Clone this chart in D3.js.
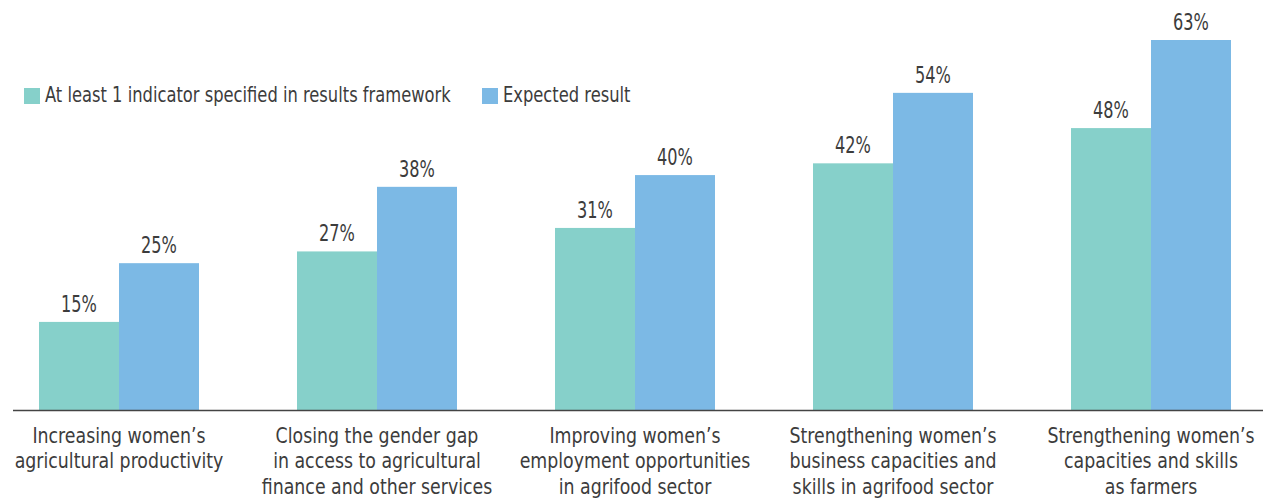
<!DOCTYPE html>
<html>
<head>
<meta charset="utf-8">
<script src="https://cdn.jsdelivr.net/npm/d3@7"></script>
<style>
  html, body { margin: 0; padding: 0; background: #fff; }
  svg { display: block; }
  text { font-family: "DejaVu Sans Condensed", "DejaVu Sans", sans-serif; font-stretch: condensed; fill: #3c3c3c; }
</style>
</head>
<body>
<svg id="chart" width="1263" height="499"></svg>
<script>
// Focus areas (each label split into its display lines)
const categories = [
  ["Increasing women\u2019s", "agricultural productivity"],
  ["Closing the gender gap", "in access to agricultural", "finance and other services"],
  ["Improving women\u2019s", "employment opportunities", "in agrifood sector"],
  ["Strengthening women\u2019s", "business capacities and", "skills in agrifood sector"],
  ["Strengthening women\u2019s", "capacities and skills", "as farmers"]
];
const seriesNames = ["At least 1 indicator specified in results framework", "Expected result"];
const indicatorValues = [15, 27, 31, 42, 48];
const expectedValues = [25, 38, 40, 54, 63];
const colors = ["#86d0ca", "#7cb9e5"];

const svg = d3.select("#chart");
const W = 1263, baseY = 410;

const x0 = d3.scaleBand()
  .domain(d3.range(categories.length))
  .range([-10, 1280]);

const x1 = d3.scaleBand()
  .domain([0, 1])
  .range([49, x0.bandwidth() - 49]);

const y = d3.scaleLinear().domain([0, 63]).range([baseY, 40]);

// Narrow, light type: draw text horizontally compressed about its anchor
function narrowText(sel, x, yPos, sx, size) {
  return sel.append("text")
    .attr("transform", `translate(${x},${yPos}) scale(${sx},1)`)
    .style("font-size", size + "px");
}

const rows = categories.map((c, i) => ({ i, vals: [indicatorValues[i], expectedValues[i]] }));

const groups = svg.append("g").selectAll("g")
  .data(rows).join("g")
  .attr("transform", d => `translate(${x0(d.i)},0)`);

groups.selectAll("rect")
  .data(d => d.vals.map((v, s) => ({ v, s })))
  .join("rect")
  .attr("x", d => x1(d.s))
  .attr("width", x1.bandwidth())
  .attr("y", d => y(d.v))
  .attr("height", d => baseY - y(d.v))
  .attr("fill", d => colors[d.s]);

groups.each(function (r) {
  const g = d3.select(this);
  r.vals.forEach((v, s) => {
    narrowText(g, x1(s) + x1.bandwidth() / 2, y(v) - 10, 0.78, 23)
      .attr("text-anchor", "middle")
      .text(v + "%");
  });
});

// Baseline axis
const xAxis = d3.axisBottom(x0).tickSize(0).tickFormat("");
const axisG = svg.append("g").attr("transform", `translate(0,${baseY})`).call(xAxis);
axisG.select(".domain").attr("d", `M13,0.5H${W}`).attr("stroke", "#444").attr("stroke-width", 1.5);

// Category labels under each group
const labelG = svg.append("g");
rows.forEach(r => {
  const cx = x0(r.i) + x0.bandwidth() / 2;
  const t = narrowText(labelG, cx, 443, 0.92, 21).attr("text-anchor", "middle");
  categories[r.i].forEach((line, k) => {
    t.append("tspan")
      .attr("x", 0)
      .attr("dy", k === 0 ? 0 : 25.5)
      .text(line);
  });
});

// Legend
const legend = svg.append("g").attr("transform", "translate(24,88)");
const legendX = [0, 458];
seriesNames.forEach((name, s) => {
  const g = legend.append("g").attr("transform", `translate(${legendX[s]},0)`);
  g.append("rect").attr("width", 16).attr("height", 16).attr("fill", colors[s]);
  narrowText(g, 21, 13.5, 0.825, 22).text(name);
});
</script>
</body>
</html>
